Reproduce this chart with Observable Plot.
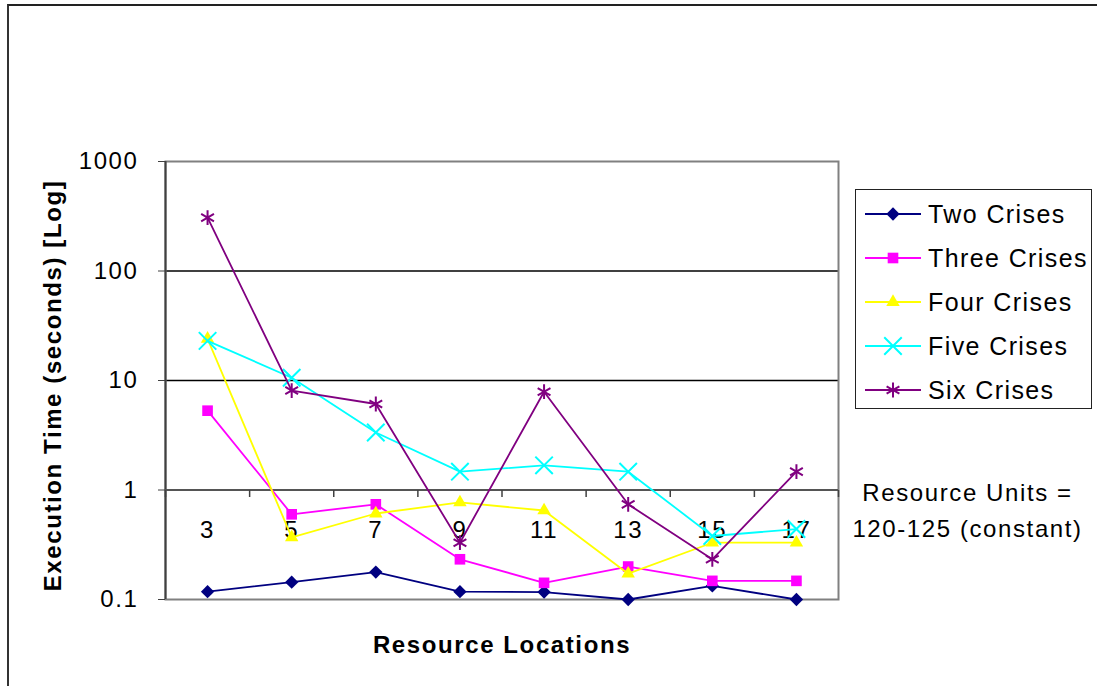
<!DOCTYPE html>
<html>
<head>
<meta charset="utf-8">
<script src="https://cdn.jsdelivr.net/npm/d3@7"></script>
<script src="https://cdn.jsdelivr.net/npm/@observablehq/plot@0.6"></script>
<style>
  body { margin: 0; background: #fff; font-family: "Liberation Sans", Arial, sans-serif; }
  #wrap { position: relative; width: 1097px; height: 686px; overflow: hidden; background: #fff; }
  #border { position: absolute; left: 7px; top: 4px; width: 1200px; height: 800px;
            border-left: 2px solid #333; border-top: 2px solid #222; }
  #chart { position: absolute; left: 0; top: 0; }
  #legend { position: absolute; left: 855px; top: 189px; width: 237px; height: 220px;
            border: 1px solid #222; box-sizing: border-box; background: #fff; }
  .row { position: absolute; left: 0; height: 44px; width: 236px; }
  .row svg { position: absolute; left: 9px; top: 0; }
  .row span { position: absolute; left: 72px; top: 0; line-height: 44px; font-size: 25px;
              letter-spacing: 1.4px; color: #000; white-space: nowrap; }
  svg text[font-weight="bold"] { letter-spacing: 1px; }
</style>
</head>
<body>
<div id="wrap">
  <div id="border"></div>
  <div id="chart"></div>
  <div id="legend"></div>
</div>
<script>
// ---- data ----
const locations = [3, 5, 7, 9, 11, 13, 15, 17];
const tickBoundaries = [2, 4, 6, 8, 10, 12, 14, 16, 18];
const yTicks = [0.1, 1, 10, 100, 1000];
const gridValues = [10, 100];
const seriesNames = ["Two Crises", "Three Crises", "Four Crises", "Five Crises", "Six Crises"];
const twoCrises   = [0.118, 0.144, 0.178, 0.118, 0.117, 0.1, 0.133, 0.1];
const threeCrises = [5.3, 0.6, 0.74, 0.233, 0.142, 0.2, 0.148, 0.148];
const fourCrises  = [24, 0.37, 0.61, 0.77, 0.65, 0.172, 0.33, 0.33];
const fiveCrises  = [23, 10.6, 3.35, 1.47, 1.68, 1.47, 0.38, 0.44];
const sixCrises   = [307, 8.1, 6.1, 0.33, 7.9, 0.74, 0.233, 1.47];
const seriesColors = ["#000080", "#ff00ff", "#ffff00", "#00ffff", "#800080"];
const seriesSymbols = ["diamond2", "square", "triangle", "times", "asterisk"];
const xLabel = "Resource Locations";
const yLabel = "Execution Time (seconds) [Log]";
const noteText = "Resource Units =\n120-125 (constant)";

// ---- styles ----
const markerR = [6, 6, 5, 8, 7];
const markerFilled = [true, true, true, false, false];
const FONT = '"Liberation Sans", Arial, sans-serif';

const seriesValues = [twoCrises, threeCrises, fourCrises, fiveCrises, sixCrises];
const rows = seriesNames.flatMap((name, i) =>
  seriesValues[i].map((v, j) => ({ series: name, loc: locations[j], value: v })));

// short downward tick used as x-axis tick mark at y = 1
const downTick = { draw(ctx) { ctx.moveTo(0, 0); ctx.lineTo(0, 7); } };

const seriesMarks = seriesNames.flatMap((name, i) => [
  Plot.line(rows, { filter: d => d.series === name, x: "loc", y: "value", stroke: "series", strokeWidth: 1.8 }),
  Plot.dot(rows, {
    filter: d => d.series === name, x: "loc", y: "value", symbol: "series", r: markerR[i],
    fill: markerFilled[i] ? "series" : "none",
    stroke: markerFilled[i] ? "none" : "series",
    strokeWidth: 2
  })
]);

const chart = Plot.plot({
  width: 1097, height: 686,
  marginLeft: 165, marginRight: 259, marginTop: 161, marginBottom: 87,
  style: { fontFamily: FONT, fontSize: "24px", background: "transparent", overflow: "visible", letterSpacing: "1.6px", color: "#000" },
  x: { type: "linear", domain: [2, 18], axis: null },
  y: { type: "log", domain: [0.1, 1000], axis: null },
  color: { domain: seriesNames, range: seriesColors },
  symbol: { domain: seriesNames, range: seriesSymbols },
  marks: [
    Plot.ruleY(gridValues, { stroke: "#000", strokeWidth: 1.3 }),
    Plot.frame({ stroke: "#808080", strokeWidth: 2 }),
    Plot.ruleX([2], { stroke: "#404040", strokeWidth: 2 }),
    Plot.ruleY([1], { stroke: "#555", strokeWidth: 2 }),
    Plot.dot(tickBoundaries, { x: d => d, y: () => 1, symbol: downTick, stroke: "#404040", strokeWidth: 1.5 }),
    Plot.axisY({ ticks: yTicks, tickFormat: d => String(d), tickSize: 7, tickPadding: 20, fontSize: 24, label: null, stroke: "#404040" }),
    Plot.text(locations, { x: d => d, y: () => 1, dy: 40, text: d => String(d), fontSize: 24, fill: "#000" }),
    Plot.text([noteText], { x: () => 18, y: () => 1, dx: 129, dy: 17, textAnchor: "middle", lineAnchor: "middle", lineHeight: 1.5, fontSize: 24, fill: "#000" }),
    Plot.text([xLabel], { frameAnchor: "bottom", dy: 46, lineAnchor: "middle", fontWeight: "bold", fontSize: 24, fill: "#000" }),
    Plot.text([yLabel], { frameAnchor: "left", textAnchor: "middle", lineAnchor: "middle", rotate: -90, dx: -112, dy: 5, fontWeight: "bold", fontSize: 24, fill: "#000" }),
    ...seriesMarks
  ]
});
document.getElementById("chart").appendChild(chart);

// ---- legend ----
const d3Symbols = { diamond2: d3.symbolDiamond2, square: d3.symbolSquare, triangle: d3.symbolTriangle, times: d3.symbolTimes, asterisk: d3.symbolAsterisk };
const legend = d3.select("#legend");
seriesNames.forEach((name, i) => {
  const row = legend.append("div").attr("class", "row").style("top", (2 + 44 * i) + "px");
  const svg = row.append("svg").attr("width", 60).attr("height", 44);
  svg.append("line").attr("x1", 0).attr("x2", 56).attr("y1", 22).attr("y2", 22)
    .attr("stroke", seriesColors[i]).attr("stroke-width", 1.8);
  const size = Math.PI * markerR[i] * markerR[i];
  svg.append("path").attr("transform", "translate(28,22)")
    .attr("d", d3.symbol(d3Symbols[seriesSymbols[i]], size)())
    .attr("fill", markerFilled[i] ? seriesColors[i] : "none")
    .attr("stroke", markerFilled[i] ? "none" : seriesColors[i])
    .attr("stroke-width", 2);
  row.append("span").text(name);
});
</script>
</body>
</html>
